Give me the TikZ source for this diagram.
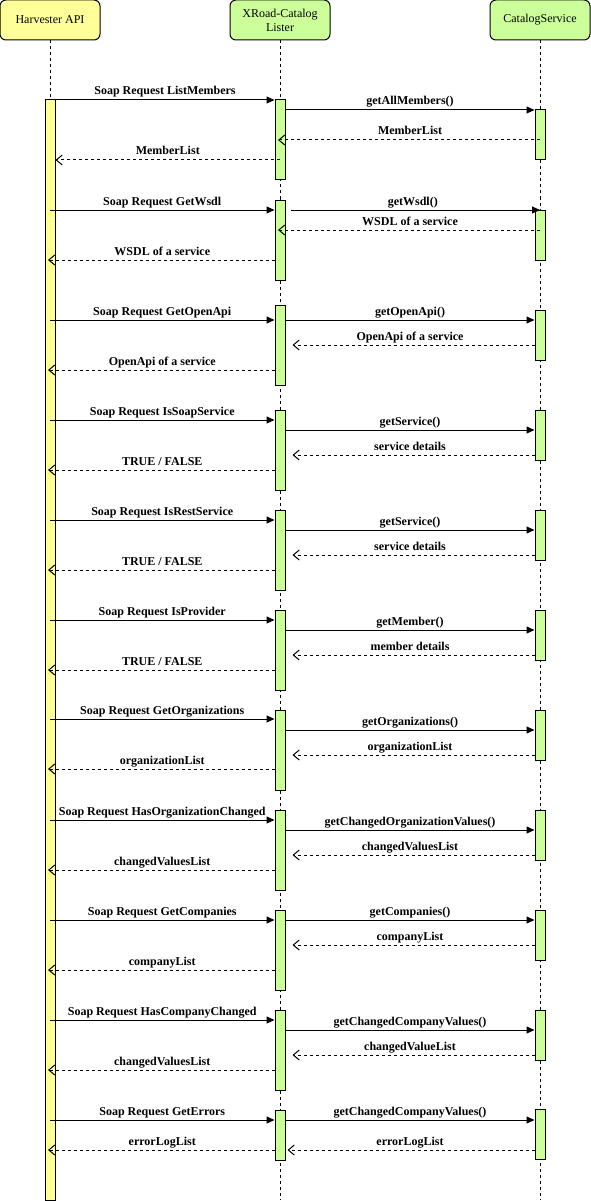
\documentclass[tikz,border=0pt]{standalone}
\usepackage{fontspec}
\setmainfont{Liberation Serif}
\usetikzlibrary{arrows.meta}

\definecolor{harvfill}{HTML}{FFFF99}
\definecolor{catfill}{HTML}{CCFF99}

% one message: [extra] style from to y label
\newcommand\msg[6][]{%
  \draw[#2,#1] (#3 |- 0,#5) -- node[lbl]{#6} (#4 |- 0,#5);}

\begin{document}
\begin{tikzpicture}[x=1pt,y=-1pt,
  head/.style={draw=black, line width=1pt, rounded corners=6pt,
    minimum width=100pt, minimum height=40pt, inner sep=0pt, align=center,
    font=\fontsize{12}{14}\selectfont},
  lifeline/.style={draw=black, line width=1pt, dash pattern=on 3pt off 3pt},
  actbar/.style={draw=black, line width=1pt, minimum width=10pt, inner sep=0pt},
  call/.style={draw=black, line width=1pt, -{Triangle[length=8pt,width=7pt]}},
  ret/.style={draw=black, line width=1pt, dash pattern=on 3pt off 3pt,
    -{Straight Barb[length=6pt,width=10pt,line width=1pt]}},
  lbl/.style={font=\fontsize{12}{14}\selectfont\bfseries, inner sep=0pt,
    anchor=base, yshift=5pt, pos=0.5},
]
\useasboundingbox (0,0) rectangle (591,1201);

% participants
\node[head, fill=harvfill] (hv) at (50,20) {Harvester API};
\node[head, fill=catfill] (ls) at (280,20) {XRoad-Catalog\\Lister};
\node[head, fill=catfill] (cs) at (540,20) {CatalogService};

% lifelines
\coordinate (hvEnd) at (50,1200);
\coordinate (lsEnd) at (280,1200);
\coordinate (csEnd) at (540,1200);
\draw[lifeline] (hv.south) -- (hvEnd);
\draw[lifeline] (ls.south) -- (lsEnd);
\draw[lifeline] (cs.south) -- (csEnd);

% activation bars
\node[actbar, fill=harvfill, minimum height=1100pt] (ha) at (50,650) {};
\foreach \n/\a/\b in {1/100/180, 2/200/280, 3/305/385, 4/410/490, 5/510/590,
    6/610/690, 7/710/790, 8/810/890, 9/910/990, 10/1010/1090, 11/1110/1160}{
  \node[actbar, fill=catfill, minimum height={\b-\a}] (l\n) at (280,{(\a+\b)/2}) {};
}
\foreach \n/\a/\b in {1/110/160, 2/210/260, 3/310/360, 4/410/460, 5/510/560,
    6/610/660, 7/710/760, 8/810/860, 9/910/960, 10/1010/1060, 11/1109/1159}{
  \node[actbar, fill=catfill, minimum height={\b-\a}] (c\n) at (540,{(\a+\b)/2}) {};
}

% ListMembers
\msg{call}{ha.east}{l1.west}{100}{Soap Request ListMembers}
\msg{call}{l1.east}{c1.west}{110}{getAllMembers()}
\msg[shorten >=-2pt]{ret}{c1.center}{l1.center}{140}{MemberList}
\msg{ret}{l1.center}{ha.east}{160}{MemberList}

% GetWsdl
\msg{call}{ha.center}{l2.west}{210}{Soap Request GetWsdl}
\msg[shorten <=5pt]{call}{l2.east}{c2.center}{210}{getWsdl()}
\msg[shorten >=-2pt]{ret}{c2.center}{l2.center}{230}{WSDL of a service}
\msg[shorten >=-2pt]{ret}{l2.west}{ha.center}{260}{WSDL of a service}

% GetOpenApi
\msg{call}{ha.center}{l3.west}{320}{Soap Request GetOpenApi}
\msg{call}{l3.east}{c3.west}{320}{getOpenApi()}
\msg[shorten >=7pt]{ret}{c3.west}{l3.east}{345}{OpenApi of a service}
\msg[shorten >=-2pt]{ret}{l3.west}{ha.center}{370}{OpenApi of a service}

% IsSoapService
\msg{call}{ha.center}{l4.west}{420}{Soap Request IsSoapService}
\msg{call}{l4.east}{c4.west}{430}{getService()}
\msg[shorten >=7pt]{ret}{c4.west}{l4.east}{455}{service details}
\msg[shorten >=-2pt]{ret}{l4.west}{ha.center}{470}{TRUE / FALSE}

% IsRestService
\msg{call}{ha.center}{l5.west}{520}{Soap Request IsRestService}
\msg{call}{l5.east}{c5.west}{530}{getService()}
\msg[shorten >=7pt]{ret}{c5.west}{l5.east}{555}{service details}
\msg[shorten >=-2pt]{ret}{l5.west}{ha.center}{570}{TRUE / FALSE}

% IsProvider
\msg{call}{ha.center}{l6.west}{620}{Soap Request IsProvider}
\msg{call}{l6.east}{c6.west}{630}{getMember()}
\msg[shorten >=7pt]{ret}{c6.west}{l6.east}{655}{member details}
\msg[shorten >=-2pt]{ret}{l6.west}{ha.center}{670}{TRUE / FALSE}

% GetOrganizations
\msg{call}{ha.center}{l7.west}{719}{Soap Request GetOrganizations}
\msg{call}{l7.east}{c7.west}{730}{getOrganizations()}
\msg[shorten >=7pt]{ret}{c7.west}{l7.east}{755}{organizationList}
\msg[shorten >=-2pt]{ret}{l7.west}{ha.center}{769}{organizationList}

% HasOrganizationChanged
\msg{call}{ha.center}{l8.west}{820}{Soap Request HasOrganizationChanged}
\msg{call}{l8.east}{c8.west}{830}{getChangedOrganizationValues()}
\msg[shorten >=7pt]{ret}{c8.west}{l8.east}{855}{changedValuesList}
\msg[shorten >=-2pt]{ret}{l8.west}{ha.center}{870}{changedValuesList}

% GetCompanies
\msg{call}{ha.center}{l9.west}{920}{Soap Request GetCompanies}
\msg{call}{l9.east}{c9.west}{920}{getCompanies()}
\msg[shorten >=7pt]{ret}{c9.west}{l9.east}{945}{companyList}
\msg[shorten >=-2pt]{ret}{l9.west}{ha.center}{970}{companyList}

% HasCompanyChanged
\msg{call}{ha.center}{l10.west}{1020}{Soap Request HasCompanyChanged}
\msg{call}{l10.east}{c10.west}{1030}{getChangedCompanyValues()}
\msg[shorten >=7pt]{ret}{c10.west}{l10.east}{1055}{changedValueList}
\msg[shorten >=-2pt]{ret}{l10.west}{ha.center}{1070}{changedValuesList}

% GetErrors
\msg{call}{ha.center}{l11.west}{1120}{Soap Request GetErrors}
\msg{call}{l11.east}{c11.west}{1120}{getChangedCompanyValues()}
\msg[shorten >=2pt]{ret}{c11.west}{l11.east}{1150}{errorLogList}
\msg[shorten >=-2pt]{ret}{l11.west}{ha.center}{1150}{errorLogList}
\end{tikzpicture}
\end{document}
